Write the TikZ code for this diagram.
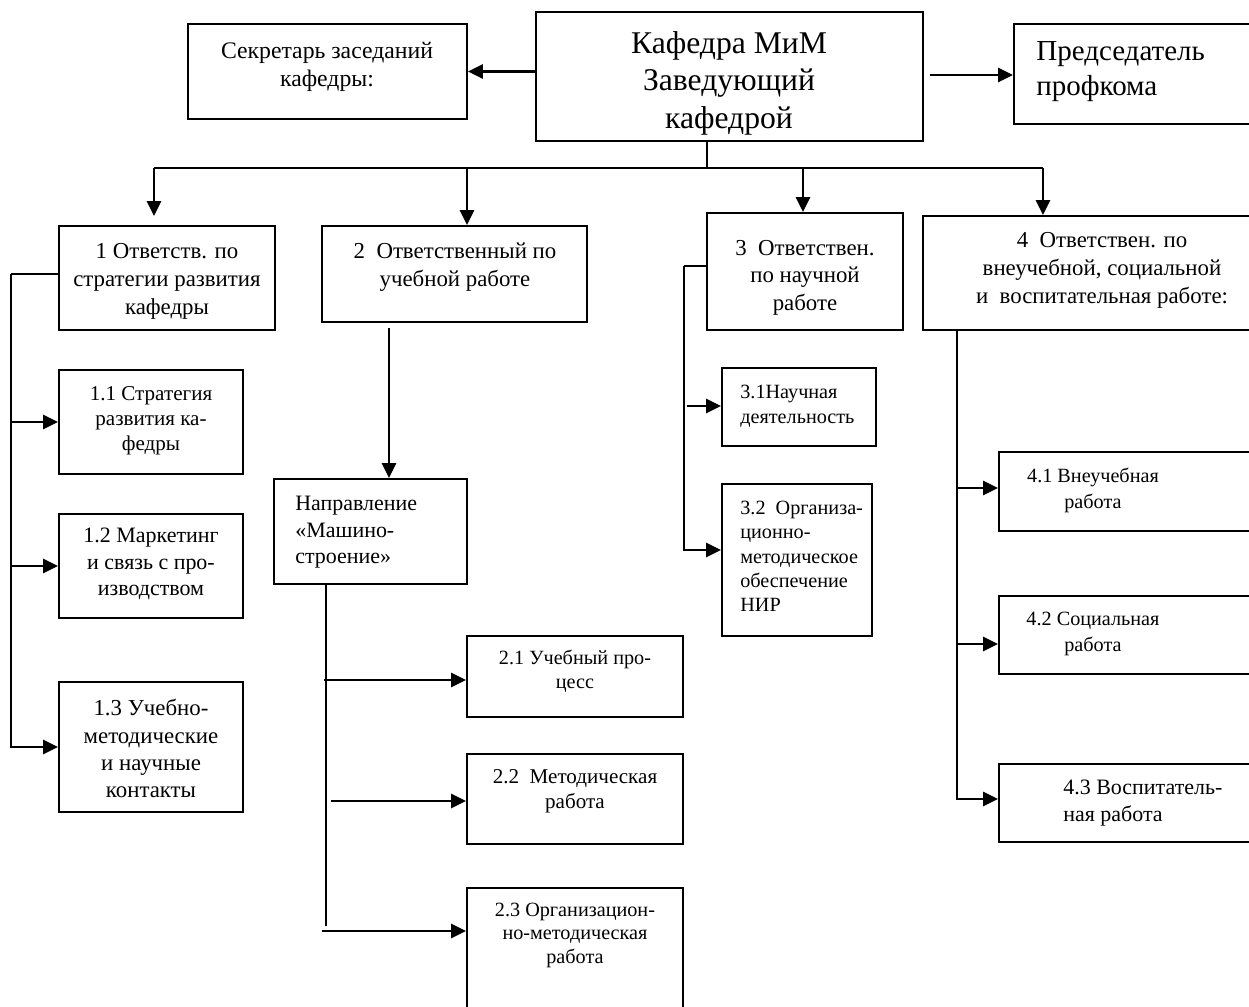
\documentclass[tikz,border=0pt]{standalone}
\usepackage{fontspec}
\setmainfont{Liberation Serif}
\usetikzlibrary{arrows.meta,fit}

\begin{document}
\begin{tikzpicture}[x=0.02cm,y=-0.02cm,
    unit/.style={draw,line width=1.1pt,inner sep=0pt},
    txt/.style={inner sep=0pt,align=center,anchor=north},
    ltxt/.style={inner sep=0pt,align=left,anchor=north west},
    fs/.style 2 args={font=\fontsize{#1}{#2}\selectfont},
    line/.style={line width=1.3pt},
    arr/.style={line,-{Triangle[length=8.5pt,width=8pt]}}]
    \useasboundingbox (0,0) rectangle (1249,1007);
    \clip (0,0) rectangle (1249,1007);
    % top row
    \node[unit,fit={(536,12) (923,141)}] (head) {};
    \node[txt,fs={18pt}{21.3pt}] (head-t) at (729,31) {Кафедра МиМ\\Заведующий\\кафедрой};
    \node[unit,fit={(188,24) (467,119)}] (sec) {};
    \node[txt,fs={13.5pt}{15.9pt}] (sec-t) at (327,42) {Секретарь заседаний\\кафедры:};
    \node[unit,fit={(1014,24) (1300,124)}] (pred) {};
    \node[ltxt,fs={16.5pt}{19.8pt}] (pred-t) at (1036,41) {Председатель\\профкома};
    % second row
    \node[unit,fit={(59,226) (275,330)}] (b1) {};
    \node[txt,fs={13pt}{15.9pt}] (b1-t) at (167,243) {1 Ответств. по\\стратегии развития\\кафедры};
    \node[unit,fit={(322,226) (587,322)}] (b2) {};
    \node[txt,fs={13pt}{15.9pt}] (b2-t) at (455,243) {2~~Ответственный по\\учебной работе};
    \node[unit,fit={(707,213) (903,330)}] (b3) {};
    \node[txt,fs={13pt}{15.6pt}] (b3-t) at (805,240) {3~~Ответствен.\\по научной\\работе};
    \node[unit,fit={(923,216) (1300,330)}] (b4) {};
    \node[txt,fs={13pt}{15.9pt}] (b4-t) at (1102,232) {4~~Ответствен. по\\внеучебной, социальной\\и~~воспитательная работе:};
    % column 1
    \node[unit,fit={(59,370) (243,474)}] (b11) {};
    \node[txt,fs={12pt}{14.2pt}] (b11-t) at (151,386) {1.1 Стратегия\\развития ка-\\федры};
    \node[unit,fit={(59,514) (243,618)}] (b12) {};
    \node[txt,fs={12.5pt}{15pt}] (b12-t) at (151,528) {1.2 Маркетинг\\и связь с про-\\изводством};
    \node[unit,fit={(59,682) (243,812)}] (b13) {};
    \node[txt,fs={13pt}{15.6pt}] (b13-t) at (151,699) {1.3 Учебно-\\методические\\и научные\\контакты};
    % column 2
    \node[unit,fit={(274,479) (467,584)}] (nap) {};
    \node[ltxt,fs={12.5pt}{15pt}] (nap-t) at (295,496) {Направление\\«Машино-\\строение»};
    \node[unit,fit={(467,636) (683,717)}] (b21) {};
    \node[txt,fs={11.5pt}{13.6pt}] (b21-t) at (575,650) {2.1 Учебный про-\\цесс};
    \node[unit,fit={(467,754) (683,844)}] (b22) {};
    \node[txt,fs={12pt}{14.2pt}] (b22-t) at (575,769) {2.2~~Методическая\\работа};
    \node[unit,fit={(467,888) (683,1050)}] (b23) {};
    \node[txt,fs={11.5pt}{13.2pt}] (b23-t) at (575,903) {2.3 Организацион-\\но-методическая\\работа};
    % column 3
    \node[unit,fit={(722,368) (876,446)}] (b31) {};
    \node[ltxt,fs={11.5pt}{14.2pt}] (b31-t) at (740,385) {3.1Научная\\деятельность};
    \node[unit,fit={(722,484) (872,636)}] (b32) {};
    \node[ltxt,fs={11.5pt}{13.8pt}] (b32-t) at (740,501) {3.2~~Организа-\\ционно-\\методическое\\обеспечение\\НИР};
    % column 4
    \node[unit,fit={(999,452) (1300,531)}] (b41) {};
    \node[txt,fs={11.5pt}{14.7pt}] (b41-t) at (1093,468) {4.1 Внеучебная\\работа};
    \node[unit,fit={(999,596) (1300,674)}] (b42) {};
    \node[txt,fs={11.5pt}{14.7pt}] (b42-t) at (1093,612) {4.2 Социальная\\работа};
    \node[unit,fit={(999,764) (1300,842)}] (b43) {};
    \node[ltxt,fs={12.5pt}{15.3pt}] (b43-t) at (1063,780) {4.3 Воспитатель-\\ная работа};
    % connectors from the head
    \draw[arr] (sec.east -| head.west) -- (sec.east);
    \coordinate (p0) at (930,75);
    \draw[arr] (p0) -- (p0 -| pred.west);
    \coordinate (bus) at (707,168);
    \coordinate (d1) at (154,168);
    \coordinate (d2) at (467,168);
    \coordinate (d3) at (803,168);
    \coordinate (d4) at (1043,168);
    \draw[line] (bus |- head.south) -- (bus);
    \draw[line] (d1) -- (d4);
    \draw[arr,shorten >=0.18cm] (d1) -- (d1 |- b1.north);
    \draw[arr] (d2) -- (d2 |- b2.north);
    \draw[arr] (d3) -- (d3 |- b3.north);
    \draw[arr] (d4) -- (d4 |- b4.north);
    % column 1
    \coordinate (t1) at (11,274);
    \draw[line] (t1 -| b1.west) -- (t1);
    \draw[arr] (t1) |- (b13.west);
    \draw[arr] (t1 |- b11.west) -- (b11.west);
    \draw[arr] (t1 |- b12.west) -- (b12.west);
    % column 2
    \coordinate (t2) at (389,328);
    \draw[arr] (t2) -- (t2 |- nap.north);
    \coordinate (t2b) at (326,926);
    \draw[line] (t2b |- nap.south) -- (t2b);
    \coordinate (a21) at (324,680);
    \coordinate (a22) at (331,801);
    \coordinate (a23) at (322,931);
    \draw[arr] (a21) -- (a21 -| b21.west);
    \draw[arr] (a22) -- (a22 -| b22.west);
    \draw[arr] (a23) -- (a23 -| b23.west);
    % column 3
    \coordinate (t3) at (684,266);
    \coordinate (a31) at (687,406);
    \coordinate (a32) at (684,550);
    \draw[line] (t3 -| b3.west) -- (t3);
    \draw[arr] (t3) -- (a32) -- (a32 -| b32.west);
    \draw[arr] (a31) -- (a31 -| b31.west);
    % column 4
    \coordinate (t4) at (957,330);
    \coordinate (a41) at (957,488);
    \coordinate (a42) at (957,644);
    \coordinate (a43) at (957,799);
    \draw[arr] (t4) -- (a43) -- (a43 -| b43.west);
    \draw[arr] (a41) -- (a41 -| b41.west);
    \draw[arr] (a42) -- (a42 -| b42.west);
\end{tikzpicture}
\end{document}
